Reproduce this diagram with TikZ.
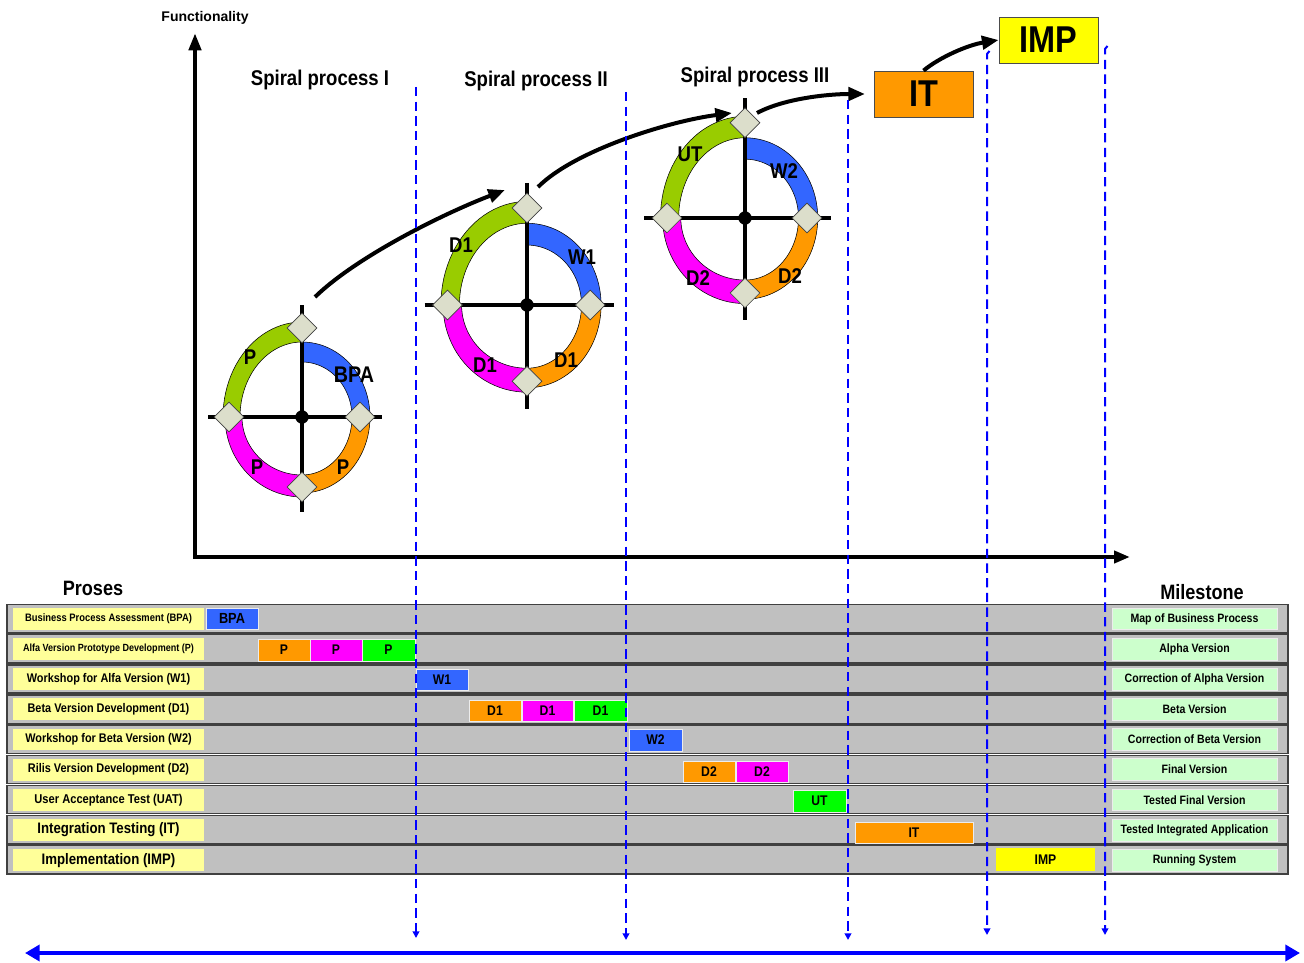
\documentclass[tikz,border=0pt]{standalone}
\usepackage{fontspec}
\setmainfont{Liberation Sans}[FakeStretch=0.87]
\newfontfamily\widefont{Liberation Sans}
\usetikzlibrary{arrows.meta,shapes.geometric}
\definecolor{cgreen}{HTML}{99CC00}
\definecolor{cblue}{HTML}{3366FF}
\definecolor{corange}{HTML}{FF9900}
\definecolor{cmag}{HTML}{FF00FF}
\definecolor{cdia}{HTML}{DCDECB}
\definecolor{crow}{HTML}{C0C0C0}
\definecolor{clab}{HTML}{FFFF99}
\definecolor{cms}{HTML}{CCFFCC}
\definecolor{cbar}{HTML}{00FF00}
\definecolor{cyel}{HTML}{FFFF00}
\newcommand\fs[1]{\fontsize{#1}{#1}\selectfont\bfseries}
% quarter of a ring: a1 a2 rx_out ry_out rx_in ry_in colour
\newcommand\qarc[7]{%
  \filldraw[fill=#7, draw=black, line width=0.4pt]
    plot[domain=#1:#2, samples=25] ({\spcx+\spsc*#3*cos(\x)},{\spcy-\spsc*#4*sin(\x)})
    -- plot[domain=#2:#1, samples=25] ({\spcx+\spsc*#5*cos(\x)},{\spcy-\spsc*#6*sin(\x)})
    -- cycle;}
% spiral: cx cy scale name
\newcommand\spiral[4]{%
  \def\spcx{#1}\def\spcy{#2}\def\spsc{#3}%
  \qarc{90}{180}{79}{95}{62}{75}{cgreen}
  \qarc{0}{90}{68}{75}{50}{55}{cblue}
  \qarc{-90}{0}{68}{76}{50}{58}{corange}
  \qarc{180}{270}{77}{80}{60}{58}{cmag}
  \draw[crossl] (#1-#3*94,#2) -- (#1+#3*80,#2);
  \draw[crossl] (#1,#2-#3*112) -- (#1,#2+#3*95);
  \node[cdot] (#4c) at (#1,#2) {};
  \node[dia] (#4t) at (#1,#2-#3*89) {};
  \node[dia] (#4l) at (#1-#3*73,#2) {};
  \node[dia] (#4r) at (#1+#3*58,#2) {};
  \node[dia] (#4b) at (#1,#2+#3*70) {};
}
% box node: name x1 y1 x2 y2 style text
\newcommand\boxnode[7]{%
  \pgfmathsetmacro\bxw{(#4-#2)*0.75}%
  \pgfmathsetmacro\bxh{(#5-#3)*0.75}%
  \node[#6, minimum width=\bxw pt, minimum height=\bxh pt] (#1) at ({(#2+#4)/2},{(#3+#5)/2}) {#7};}
\begin{document}
\begin{tikzpicture}[x=0.75pt,y=-0.75pt,
  axis/.style={line width=3.2pt},
  curv/.style={line width=3pt, -{Triangle[length=12.5pt,width=10pt]}},
  vline/.style={blue, line width=1.5pt, dash pattern=on 7pt off 4pt, -{Triangle[length=5pt,width=5pt]}},
  dia/.style={shape=diamond, draw=black!75, fill=cdia, line width=0.5pt, inner sep=0pt, minimum width=22.5pt, minimum height=22.5pt},
  cdot/.style={circle, fill=black, inner sep=0pt, minimum size=10pt},
  crossl/.style={line width=2.4pt},
  slab/.style={font=\fs{16}},
  ttl/.style={font=\fs{16}},
  bigbox/.style={draw=black!70, line width=0.6pt, minimum width=74.25pt, minimum height=34.5pt, inner sep=0pt, font=\fs{28}},
  rowbox/.style={fill=crow, draw=black!75, line width=1.1pt, inner sep=0pt},
  labbox/.style={fill=clab, inner sep=0pt},
  msbox/.style={fill=cms, draw=white!85!gray, line width=0.5pt, inner sep=0pt, font=\fs{9.1}},
  barbox/.style={draw=white!85!gray, line width=0.6pt, inner sep=0pt, font=\fs{10.5}},
  head/.style={font=\fs{15.6}}
]
\useasboundingbox (0,0) rectangle (1304,963);

% axes
\coordinate (ytip) at (195,33);
\coordinate (orig) at (195,557);
\coordinate (xtip) at (1130,557);
\draw[axis, {Triangle[length=13pt,width=9pt]}-{Triangle[length=12pt,width=9pt]}] (ytip) -- (orig) -- (xtip);
\node[font=\widefont\bfseries\fontsize{10.5}{12}\selectfont] (func) at (205,18) {Functionality};

% titles
\node[ttl] (t1) at (320,80) {Spiral process I};
\node[ttl] (t2) at (536,81) {Spiral process II};
\node[ttl] (t3) at (755,77) {Spiral process III};

% spirals
\spiral{302}{417}{1}{sa}
\spiral{527}{305}{1.09}{sb}
\spiral{745}{218}{1.07}{sc}

\node[slab] (la1) at (250,357) {P};
\node[slab, font=\fs{17}] (la2) at (354,375) {BPA};
\node[slab] (la3) at (257,467) {P};
\node[slab] (la4) at (343,467) {P};
\node[slab] (lb1) at (461,245) {D1};
\node[slab] (lb2) at (582,257) {W1};
\node[slab] (lb3) at (485,365) {D1};
\node[slab] (lb4) at (566,360) {D1};
\node[slab] (lc1) at (690,154) {UT};
\node[slab] (lc2) at (784,171) {W2};
\node[slab] (lc3) at (698,278) {D2};
\node[slab] (lc4) at (790,276) {D2};

% IT and IMP
\node[bigbox, fill=corange] (IT) at (923.5,94) {IT};
\node[bigbox, fill=cyel] (IMP) at (1048.5,40) {IMP};

% curved arrows
\coordinate (a1s) at (315,297);
\coordinate (a1e) at (505,190);
\coordinate (a2s) at (538,187);
\coordinate (a2e) at (732,113);
\coordinate (a3s) at (757,113);
\draw[curv] (a1s) .. controls (355,258) and (440,215) .. (a1e);
\draw[curv] (a2s) .. controls (575,150) and (670,121) .. (a2e);
\draw[curv, shorten >=6.5pt] (a3s) .. controls (785,98) and (830,94) .. (IT.west);
\draw[curv] (IT.north) .. controls (940,57) and (968,45) .. (IMP.west);

% headers
\node[head] (proses) at (93,588) {Proses};
\node[head] (miles) at (1202,592) {Milestone};

% rows
\foreach \i/\lab/\lfs/\ms in {
 1/Business Process Assessment (BPA)/8.1/Map of Business Process,
 2/Alfa Version Prototype Development (P)/7.8/Alpha Version,
 3/Workshop for Alfa Version (W1)/9.4/Correction of Alpha Version,
 4/Beta Version Development (D1)/9.4/Beta Version,
 5/Workshop for Beta Version (W2)/9.4/Correction of Beta Version,
 6/Rilis Version Development (D2)/9.4/Final Version,
 7/User Acceptance Test (UAT)/9.6/Tested Final Version,
 8/Integration Testing (IT)/11.4/Tested Integrated Application,
 9/Implementation (IMP)/11.4/Running System}{
  \pgfmathsetmacro\rt{604.5+30.15*(\i-1)}
  \pgfmathsetmacro\rb{\rt+28.3}
  \pgfmathsetmacro\lt{\rt+3.5}
  \pgfmathsetmacro\lb{\rb-3}
  \boxnode{row\i}{7}{\rt}{1288}{\rb}{rowbox}{}
  \boxnode{lab\i}{13}{\lt}{204}{\lb}{labbox, font=\fs{\lfs}}{\lab}
  \boxnode{ms\i}{1112}{\lt}{1277}{\lb}{msbox}{\ms}
}

% bars
\boxnode{bBPA}{206}{608}{258}{629}{barbox, fill=cblue, font=\fs{11}}{BPA}
\boxnode{bP1}{258}{639}{310}{661}{barbox, fill=corange}{P}
\boxnode{bP2}{310}{639}{362}{661}{barbox, fill=cmag}{P}
\boxnode{bP3}{362}{639}{415}{661}{barbox, fill=cbar}{P}
\boxnode{bW1}{416}{669}{468}{690}{barbox, fill=cblue}{W1}
\boxnode{bD1a}{469}{700}{521}{721}{barbox, fill=corange}{D1}
\boxnode{bD1b}{522}{700}{573}{721}{barbox, fill=cmag}{D1}
\boxnode{bD1c}{574}{700}{627}{721}{barbox, fill=cbar}{D1}
\boxnode{bW2}{629}{729}{682}{751}{barbox, fill=cblue}{W2}
\boxnode{bD2a}{683}{761}{735}{782}{barbox, fill=corange}{D2}
\boxnode{bD2b}{736}{761}{788}{782}{barbox, fill=cmag}{D2}
\boxnode{bUT}{793}{790}{846}{812}{barbox, fill=cbar}{UT}
\boxnode{bIT}{855}{822}{973}{843}{barbox, fill=corange}{IT}
\boxnode{bIMP}{996}{848}{1095}{871}{barbox, fill=cyel, draw=none}{IMP}

% dashed milestone lines
\coordinate (v1t) at (416,87);   \coordinate (v1b) at (416,938);
\coordinate (v2t) at (626,92);   \coordinate (v2b) at (626,940);
\coordinate (v3t) at (848,100);  \coordinate (v3b) at (848,940);
\coordinate (v4t) at (989.5,51); \coordinate (v4k) at (987,54); \coordinate (v4b) at (987,935);
\coordinate (v5t) at (1107.5,46);\coordinate (v5k) at (1105,49); \coordinate (v5b) at (1105,935);
\draw[vline] (v1t) -- (v1b);
\draw[vline] (v2t) -- (v2b);
\draw[vline] (v3t) -- (v3b);
\draw[vline] (v4t) -- (v4k) -- (v4b);
\draw[vline] (v5t) -- (v5k) -- (v5b);

% time arrow
\coordinate (hl) at (25,953);
\coordinate (hr) at (1300,953);
\draw[blue, line width=3.5pt, {Triangle[length=11pt,width=12pt]}-{Triangle[length=11pt,width=12pt]}] (hl) -- (hr);
\end{tikzpicture}
\end{document}
